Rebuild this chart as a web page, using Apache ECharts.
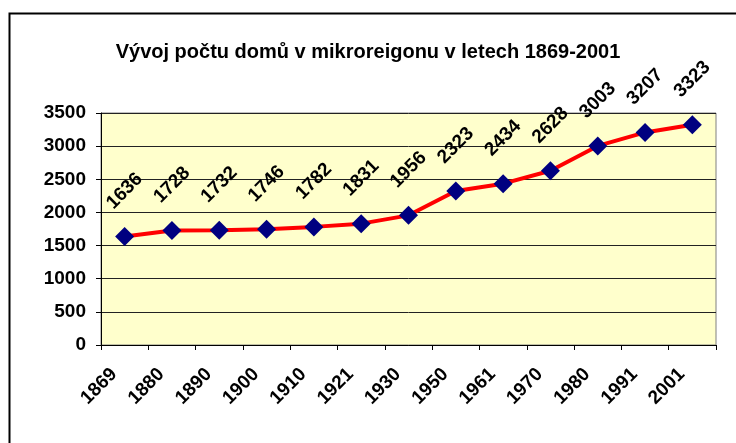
<!DOCTYPE html>
<html>
<head>
<meta charset="utf-8">
<script src="https://cdn.jsdelivr.net/npm/echarts@6/dist/echarts.min.js"></script>
<style>
  html, body { margin: 0; padding: 0; background: #fff; }
  #chart { width: 736px; height: 443px; }
</style>
</head>
<body>
<div id="chart"></div>
<script>
// roky scitani
const years = ['1869', '1880', '1890', '1900', '1910', '1921', '1930', '1950', '1961', '1970', '1980', '1991', '2001']
// pocet domu
const houses = [1636, 1728, 1732, 1746, 1782, 1831, 1956, 2323, 2434, 2628, 3003, 3207, 3323]
const titleText = 'Vývoj počtu domů v mikroreigonu v letech 1869-2001'

const font = '"Liberation Sans", Arial, sans-serif'

const dom = echarts.init(document.getElementById('chart'))
const option = {
  backgroundColor: '#fff',
  animation: false,
  title: {
    text: titleText,
    left: 'center',
    top: 37,
    textStyle: {
      fontFamily: font,
      fontSize: 20,
      fontWeight: 'bold',
      color: '#000'
    }
  },
  graphic: [{
    type: 'rect',
    left: 7,
    top: 11,
    shape: { width: 760, height: 460 },
    style: { fill: 'none', stroke: '#000', lineWidth: 2 },
    silent: true
  }],
  grid: {
    left: 101,
    top: 113,
    right: 20,
    bottom: 98,
    show: true,
    backgroundColor: '#FFFFCC',
    borderColor: '#808080',
    borderWidth: 1
  },
  xAxis: {
    type: 'category',
    data: years,
    boundaryGap: true,
    axisLine: { lineStyle: { color: '#000', width: 1 } },
    axisTick: { show: true, length: 5, inside: false, lineStyle: { color: '#000' } },
    axisLabel: {
      rotate: 45,
      margin: 37,
      verticalAlign: 'bottom',
      lineHeight: 30,
      interval: 0,
      fontFamily: font,
      fontSize: 19,
      fontWeight: 'bold',
      color: '#000'
    }
  },
  yAxis: {
    type: 'value',
    min: 0,
    max: 3500,
    interval: 500,
    axisLine: { show: true, lineStyle: { color: '#000', width: 1 } },
    axisTick: { show: true, length: 5, lineStyle: { color: '#000' } },
    splitLine: { show: true, lineStyle: { color: '#222', width: 1 } },
    axisLabel: {
      margin: 15,
      formatter: (v) => String(v),
      fontFamily: font,
      fontSize: 19,
      fontWeight: 'bold',
      color: '#000'
    }
  },
  series: [{
    type: 'line',
    data: houses,
    symbol: 'diamond',
    symbolSize: 19,
    lineStyle: { color: '#FF0000', width: 4 },
    itemStyle: { color: '#000080' },
    label: {
      show: true,
      position: 'top',
      distance: 36,
      rotate: 45,
      align: 'center',
      verticalAlign: 'middle',
      fontFamily: font,
      fontSize: 19,
      fontWeight: 'bold',
      color: '#000'
    },
    z: 3
  }]
}
dom.setOption(option)
window.addEventListener('resize', dom.resize)
</script>
</body>
</html>
